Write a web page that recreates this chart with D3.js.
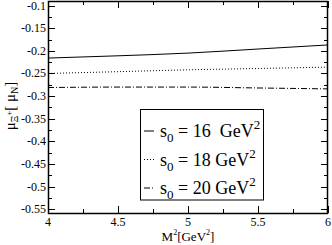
<!DOCTYPE html>
<html>
<head>
<meta charset="utf-8">
<script src="https://cdnjs.cloudflare.com/ajax/libs/d3/7.8.5/d3.min.js"></script>
<style>
  body { margin: 0; background: #fff; }
  svg { display: block; }
  text { font-family: "Liberation Serif", "DejaVu Serif", serif; fill: #000; }
</style>
</head>
<body>
<script>
const width = 332
const height = 245
const margin = {top: 1, right: 4, bottom: 32, left: 48}

// M^2 values
const msq = [4, 4.5, 5, 5.5, 6]
// magnetic moment for each s0
const s16 = [-0.216, -0.211, -0.205, -0.196, -0.187]
const s18 = [-0.250, -0.246, -0.242, -0.239, -0.236]
const s20 = [-0.281, -0.280, -0.280, -0.282, -0.284]
const seriesNames = ['16', '18', '20']
const xTicks = [4, 4.5, 5, 5.5, 6]
const yTicks = [-0.1, -0.15, -0.2, -0.25, -0.3, -0.35, -0.4, -0.45, -0.5, -0.55]

const dashes = [null, '1,2', '6,2,1,2']

const x = d3.scaleLinear().domain([4, 6]).range([margin.left, width - margin.right])
const y = d3.scaleLinear().domain([-0.558, -0.09]).range([height - margin.bottom, margin.top])

const svg = d3.select('body').append('svg')
  .attr('width', width)
  .attr('height', height)

const x0 = x.range()[0], x1 = x.range()[1]
const y0 = y.range()[0], y1 = y.range()[1]

const xMinor = d3.range(4.25, 6, 0.5)
const yMinor = d3.range(-0.525, -0.09, 0.05)

// ticks (inward) on all four sides
const tk = svg.append('g').attr('stroke', '#000').attr('stroke-width', 1)
xTicks.forEach(function (v) {
  const px = Math.round(x(v)) + 0.5
  tk.append('line').attr('x1', px).attr('x2', px).attr('y1', y0).attr('y2', y0 - 7)
  tk.append('line').attr('x1', px).attr('x2', px).attr('y1', y1).attr('y2', y1 + 7)
})
xMinor.forEach(function (v) {
  const px = Math.round(x(v)) + 0.5
  tk.append('line').attr('x1', px).attr('x2', px).attr('y1', y0).attr('y2', y0 - 4)
  tk.append('line').attr('x1', px).attr('x2', px).attr('y1', y1).attr('y2', y1 + 4)
})
yTicks.forEach(function (v) {
  const py = Math.round(y(v)) + 0.5
  tk.append('line').attr('x1', x0).attr('x2', x0 + 7).attr('y1', py).attr('y2', py)
  tk.append('line').attr('x1', x1).attr('x2', x1 - 7).attr('y1', py).attr('y2', py)
})
yMinor.forEach(function (v) {
  const py = Math.round(y(v)) + 0.5
  tk.append('line').attr('x1', x0).attr('x2', x0 + 4).attr('y1', py).attr('y2', py)
  tk.append('line').attr('x1', x1).attr('x2', x1 - 4).attr('y1', py).attr('y2', py)
})

svg.append('rect')
  .attr('x', x0 + 0.5).attr('y', y1 + 0.5)
  .attr('width', x1 - x0 - 1).attr('height', y0 - y1)
  .attr('fill', 'none').attr('stroke', '#000').attr('stroke-width', 1.5)

// tick labels
svg.append('g').selectAll('text')
  .data(xTicks).enter().append('text')
  .attr('x', function (d) { return x(d) })
  .attr('y', y0 + 13)
  .attr('text-anchor', 'middle')
  .attr('font-size', 12)
  .text(function (d) { return d })

svg.append('g').selectAll('text')
  .data(yTicks).enter().append('text')
  .attr('x', x0 - 2)
  .attr('y', function (d) { return y(d) + 4 })
  .attr('text-anchor', 'end')
  .attr('font-size', 12)
  .text(function (d) { return '-' + Math.abs(d) })

// axis titles
const xl = svg.append('text')
  .attr('x', (x0 + x1) / 2)
  .attr('y', 241)
  .attr('text-anchor', 'middle')
  .attr('font-size', 13)
xl.append('tspan').text('M')
xl.append('tspan').attr('font-size', 8).attr('dy', -6).text('2')
xl.append('tspan').attr('dy', 6).text('[GeV')
xl.append('tspan').attr('font-size', 8).attr('dy', -6).text('2')
xl.append('tspan').attr('dy', 6).text(']')

const yl = svg.append('text')
  .attr('transform', 'translate(15,' + 106 + ') rotate(-90)')
  .attr('text-anchor', 'middle')
  .attr('font-size', 15)
yl.append('tspan').text('μ')
yl.append('tspan').attr('font-size', 10).attr('dy', 3).text('Ξ')
yl.append('tspan').attr('font-size', 9).attr('dy', -6).text('+')
yl.append('tspan').attr('dy', 3).text('[ μ')
yl.append('tspan').attr('font-size', 10).attr('dy', 3).text('N')
yl.append('tspan').attr('dy', -3).text(']')

// curves
const line = d3.line()
  .x(function (d) { return x(d[0]) })
  .y(function (d) { return y(d[1]) })
  .curve(d3.curveMonotoneX)

const allSeries = [s16, s18, s20]
allSeries.forEach(function (s, i) {
  svg.append('path')
    .datum(msq.map(function (m, j) { return [m, s[j]] }))
    .attr('d', line)
    .attr('fill', 'none')
    .attr('stroke', '#000')
    .attr('stroke-width', 1)
    .attr('stroke-dasharray', dashes[i])
})

// legend
const lg = svg.append('g')
lg.append('rect')
  .attr('x', 140.5).attr('y', 109.5)
  .attr('width', 123).attr('height', 90.5)
  .attr('fill', '#fff').attr('stroke', '#000').attr('stroke-width', 1)
seriesNames.forEach(function (n, i) {
  const by = 137 + i * 28.5
  lg.append('line')
    .attr('x1', 144).attr('x2', 154)
    .attr('y1', by - 6).attr('y2', by - 6)
    .attr('stroke', '#000').attr('stroke-width', 1)
    .attr('stroke-dasharray', dashes[i])
  const t = lg.append('text').attr('x', 160).attr('y', by).attr('font-size', 18)
  t.append('tspan').text('s')
  t.append('tspan').attr('font-size', 13).attr('dy', 5).text('0')
  t.append('tspan').attr('dy', -5).text(' = ' + n + (i === 0 ? '\u00a0\u00a0GeV' : ' GeV'))
  t.append('tspan').attr('font-size', 13).attr('dy', -8).text('2')
})
</script>
</body>
</html>
